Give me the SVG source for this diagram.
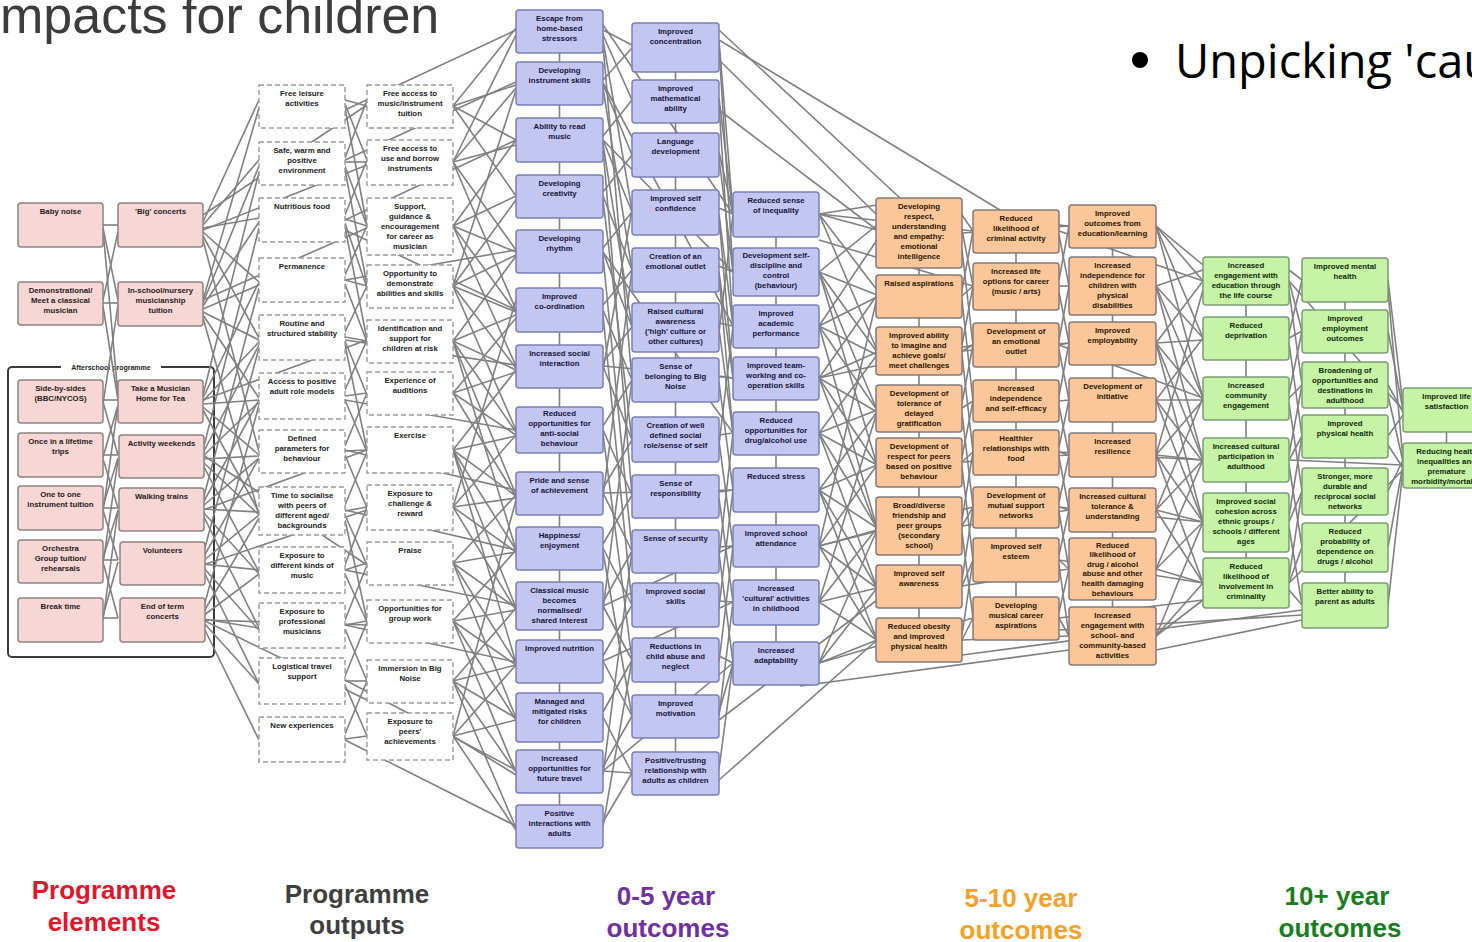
<svg xmlns="http://www.w3.org/2000/svg" width="1472" height="942" viewBox="0 0 1472 942">
<style>
.n text{font-family:"Liberation Sans",Arial,sans-serif;font-weight:bold;font-size:7.8px;text-anchor:middle}
.pk rect{fill:#f7d6d6;stroke:#8e8282;stroke-width:1.5}
.pk text{fill:#2a1a1a}
.ds rect{fill:#fff;stroke:#9a9a9a;stroke-width:1.4;stroke-dasharray:5 3}
.ds text{fill:#222}
.bl rect{fill:#c4c6f2;stroke:#7b80b0;stroke-width:1.5}
.bl text{fill:#14143a}
.or rect{fill:#fbc79a;stroke:#857a78;stroke-width:1.5}
.or text{fill:#2a1500}
.gr rect{fill:#c6f3a6;stroke:#7c9c74;stroke-width:1.5}
.gr text{fill:#0e2a08}
.lab{font-family:"Liberation Sans",Arial,sans-serif;font-weight:bold;font-size:26px;text-anchor:middle}
#connectors path{fill:none;stroke:#808080;stroke-width:1.6}
</style>
<rect width="1472" height="942" fill="#fff"/>
<text x="0" y="33" font-family="Liberation Sans,Arial,sans-serif" font-size="52" fill="#3c3c3c">mpacts for children</text>
<circle cx="1140" cy="60" r="8" fill="#000"/>
<text x="1175" y="78" font-family="Open Sans,Noto Sans,sans-serif" font-size="47" fill="#000">Unpicking 'cau</text>
<g id="afterschool">
<rect x="8" y="367" width="206" height="290" rx="4" fill="none" stroke="#3a3a3a" stroke-width="2"/>
<rect x="61" y="362" width="100" height="10" fill="#fff"/>
<text x="111" y="370" font-family="Liberation Sans,Arial,sans-serif" font-weight="bold" font-size="7px" text-anchor="middle" fill="#222">Afterschool programme</text>
</g>
<g id="connectors">
<path d="M103 225L118 225"/><path d="M103 228L118 300"/><path d="M103 230L118 395"/><path d="M103 300L118 232"/><path d="M103 303L118 303"/><path d="M103 306L118 400"/><path d="M103 400L118 400"/><path d="M103 402L118 455"/><path d="M103 404L118 305"/><path d="M103 455L118 455"/><path d="M103 457L118 405"/><path d="M103 459L118 508"/><path d="M103 508L118 508"/><path d="M103 506L118 458"/><path d="M103 510L118 560"/><path d="M103 512L118 405"/><path d="M103 560L118 560"/><path d="M103 558L118 510"/><path d="M103 562L118 618"/><path d="M103 564L118 460"/><path d="M103 618L118 618"/><path d="M103 616L118 562"/><path d="M103 620L118 510"/>
<path d="M203 222L259 100"/><path d="M203 225L259 160"/><path d="M203 228L259 218"/><path d="M203 232L259 282"/><path d="M203 236L259 338"/><path d="M203 240L259 452"/><path d="M203 300L259 108"/><path d="M203 303L259 166"/><path d="M203 306L259 222"/><path d="M203 309L259 285"/><path d="M203 312L259 340"/><path d="M203 315L259 398"/><path d="M203 318L259 515"/><path d="M203 395L259 172"/><path d="M203 398L259 282"/><path d="M203 401L259 342"/><path d="M203 404L259 400"/><path d="M203 407L259 455"/><path d="M203 410L259 512"/><path d="M203 450L259 228"/><path d="M203 453L259 345"/><path d="M203 456L259 402"/><path d="M203 459L259 456"/><path d="M203 462L259 515"/><path d="M203 465L259 572"/><path d="M203 500L259 288"/><path d="M203 503L259 400"/><path d="M203 506L259 458"/><path d="M203 509L259 512"/><path d="M203 512L259 574"/><path d="M203 515L259 628"/><path d="M203 555L259 348"/><path d="M203 558L259 458"/><path d="M203 561L259 515"/><path d="M203 564L259 570"/><path d="M203 567L259 630"/><path d="M203 570L259 684"/><path d="M203 610L259 405"/><path d="M203 613L259 518"/><path d="M203 616L259 574"/><path d="M203 619L259 628"/><path d="M203 622L259 684"/><path d="M203 626L259 740"/>
<path d="M203 215L367 105"/><path d="M203 300L367 228"/><path d="M203 455L367 565"/><path d="M203 620L367 700"/><path d="M203 510L367 450"/><path d="M203 230L367 165"/><path d="M203 400L367 340"/><path d="M203 565L367 510"/><path d="M203 620L367 625"/>
<path d="M345 100L367 106"/><path d="M345 104L367 160"/><path d="M345 108L367 226"/><path d="M345 158L367 100"/><path d="M345 162L367 162"/><path d="M345 166L367 226"/><path d="M345 170L367 285"/><path d="M345 215L367 160"/><path d="M345 219L367 226"/><path d="M345 223L367 288"/><path d="M345 227L367 340"/><path d="M345 275L367 226"/><path d="M345 280L367 286"/><path d="M345 284L367 342"/><path d="M345 332L367 286"/><path d="M345 337L367 341"/><path d="M345 341L367 395"/><path d="M345 345L367 450"/><path d="M345 390L367 340"/><path d="M345 396L367 393"/><path d="M345 400L367 452"/><path d="M345 446L367 393"/><path d="M345 451L367 450"/><path d="M345 455L367 508"/><path d="M345 505L367 452"/><path d="M345 511L367 507"/><path d="M345 515L367 565"/><path d="M345 520L367 620"/><path d="M345 565L367 507"/><path d="M345 570L367 563"/><path d="M345 574L367 622"/><path d="M345 620L367 565"/><path d="M345 625L367 621"/><path d="M345 629L367 681"/><path d="M345 676L367 622"/><path d="M345 681L367 681"/><path d="M345 685L367 736"/><path d="M345 734L367 681"/><path d="M345 739L367 736"/>
<path d="M345 110L516 30"/><path d="M345 220L516 140"/><path d="M345 340L516 365"/><path d="M345 450L516 490"/><path d="M345 570L516 605"/><path d="M345 680L516 770"/><path d="M345 740L516 826"/><path d="M345 400L516 430"/><path d="M345 160L516 82"/><path d="M345 280L516 250"/><path d="M345 510L516 550"/><path d="M345 625L516 662"/><path d="M345 230L516 310"/>
<path d="M453 106L516 28"/><path d="M453 106L516 85"/><path d="M453 106L516 140"/><path d="M453 106L516 196"/><path d="M453 162L516 35"/><path d="M453 162L516 88"/><path d="M453 162L516 145"/><path d="M453 162L516 250"/><path d="M453 162L516 310"/><path d="M453 226L516 140"/><path d="M453 226L516 196"/><path d="M453 226L516 252"/><path d="M453 226L516 312"/><path d="M453 226L516 366"/><path d="M453 286L516 90"/><path d="M453 286L516 200"/><path d="M453 286L516 255"/><path d="M453 286L516 312"/><path d="M453 286L516 368"/><path d="M453 286L516 430"/><path d="M453 341L516 256"/><path d="M453 341L516 315"/><path d="M453 341L516 370"/><path d="M453 341L516 432"/><path d="M453 341L516 495"/><path d="M453 341L516 550"/><path d="M453 393L516 318"/><path d="M453 393L516 372"/><path d="M453 393L516 435"/><path d="M453 393L516 497"/><path d="M453 450L516 370"/><path d="M453 450L516 436"/><path d="M453 450L516 496"/><path d="M453 450L516 550"/><path d="M453 450L516 608"/><path d="M453 450L516 663"/><path d="M453 507L516 435"/><path d="M453 507L516 498"/><path d="M453 507L516 552"/><path d="M453 507L516 610"/><path d="M453 507L516 300"/><path d="M453 563L516 495"/><path d="M453 563L516 552"/><path d="M453 563L516 608"/><path d="M453 563L516 663"/><path d="M453 563L516 718"/><path d="M453 621L516 550"/><path d="M453 621L516 610"/><path d="M453 621L516 665"/><path d="M453 621L516 720"/><path d="M453 621L516 772"/><path d="M453 681L516 608"/><path d="M453 681L516 665"/><path d="M453 681L516 718"/><path d="M453 681L516 772"/><path d="M453 681L516 828"/><path d="M453 736L516 665"/><path d="M453 736L516 720"/><path d="M453 736L516 775"/><path d="M453 736L516 830"/><path d="M453 736L516 500"/>
<path d="M603 30L632 45"/><path d="M603 35L632 100"/><path d="M603 40L632 210"/><path d="M603 45L632 380"/><path d="M603 80L632 48"/><path d="M603 84L632 155"/><path d="M603 88L632 270"/><path d="M603 136L632 100"/><path d="M603 140L632 212"/><path d="M603 144L632 327"/><path d="M603 148L632 495"/><path d="M603 192L632 155"/><path d="M603 196L632 270"/><path d="M603 200L632 440"/><path d="M603 248L632 212"/><path d="M603 252L632 327"/><path d="M603 256L632 550"/><path d="M603 305L632 270"/><path d="M603 310L632 380"/><path d="M603 315L632 605"/><path d="M603 362L632 327"/><path d="M603 366L632 440"/><path d="M603 370L632 210"/><path d="M603 426L632 380"/><path d="M603 430L632 495"/><path d="M603 434L632 660"/><path d="M603 488L632 440"/><path d="M603 493L632 551"/><path d="M603 497L632 270"/><path d="M603 544L632 495"/><path d="M603 548L632 605"/><path d="M603 552L632 716"/><path d="M603 602L632 551"/><path d="M603 606L632 660"/><path d="M603 610L632 380"/><path d="M603 656L632 605"/><path d="M603 661L632 716"/><path d="M603 712L632 660"/><path d="M603 717L632 773"/><path d="M603 767L632 716"/><path d="M603 771L632 773"/><path d="M603 775L632 551"/><path d="M603 822L632 773"/><path d="M603 826L632 660"/>
<path d="M603 25L733 214"/><path d="M603 140L733 272"/><path d="M603 366L733 378"/><path d="M603 493L733 490"/><path d="M603 606L733 546"/><path d="M603 771L733 663"/><path d="M603 83L733 326"/><path d="M603 252L733 433"/><path d="M603 661L733 602"/>
<path d="M719 40L733 214"/><path d="M719 47L733 272"/><path d="M719 98L733 214"/><path d="M719 104L733 326"/><path d="M719 152L733 214"/><path d="M719 158L733 272"/><path d="M719 208L733 214"/><path d="M719 214L733 326"/><path d="M719 218L733 378"/><path d="M719 266L733 272"/><path d="M719 272L733 378"/><path d="M719 276L733 433"/><path d="M719 323L733 326"/><path d="M719 329L733 433"/><path d="M719 333L733 214"/><path d="M719 376L733 378"/><path d="M719 382L733 490"/><path d="M719 435L733 433"/><path d="M719 441L733 546"/><path d="M719 445L733 326"/><path d="M719 492L733 490"/><path d="M719 498L733 602"/><path d="M719 547L733 546"/><path d="M719 553L733 663"/><path d="M719 557L733 433"/><path d="M719 601L733 602"/><path d="M719 607L733 490"/><path d="M719 656L733 663"/><path d="M719 662L733 546"/><path d="M719 712L733 663"/><path d="M719 716L733 602"/><path d="M719 769L733 663"/>
<path d="M719 30L900 198"/><path d="M719 40L1000 210"/><path d="M719 60L877 215"/><path d="M719 110L877 230"/><path d="M719 780L877 640"/><path d="M719 720L877 600"/>
<path d="M819 214L877 205"/><path d="M819 214L877 230"/><path d="M819 214L877 290"/><path d="M819 214L877 350"/><path d="M819 272L877 225"/><path d="M819 272L877 295"/><path d="M819 272L877 352"/><path d="M819 272L877 410"/><path d="M819 272L877 465"/><path d="M819 326L877 240"/><path d="M819 326L877 297"/><path d="M819 326L877 355"/><path d="M819 326L877 410"/><path d="M819 326L877 528"/><path d="M819 378L877 295"/><path d="M819 378L877 352"/><path d="M819 378L877 412"/><path d="M819 378L877 465"/><path d="M819 378L877 530"/><path d="M819 433L877 355"/><path d="M819 433L877 410"/><path d="M819 433L877 465"/><path d="M819 433L877 528"/><path d="M819 433L877 588"/><path d="M819 490L877 412"/><path d="M819 490L877 465"/><path d="M819 490L877 528"/><path d="M819 490L877 588"/><path d="M819 490L877 640"/><path d="M819 546L877 465"/><path d="M819 546L877 530"/><path d="M819 546L877 588"/><path d="M819 546L877 640"/><path d="M819 546L877 298"/><path d="M819 602L877 528"/><path d="M819 602L877 588"/><path d="M819 602L877 640"/><path d="M819 602L877 412"/><path d="M819 663L877 588"/><path d="M819 663L877 640"/><path d="M819 663L877 530"/>
<path d="M819 214L973 231"/><path d="M819 378L973 345"/><path d="M819 546L973 507"/><path d="M819 663L973 618"/><path d="M800 686L1069 650"/><path d="M819 240L973 286"/>
<path d="M962 215L973 231"/><path d="M962 230L973 286"/><path d="M962 250L973 345"/><path d="M962 290L973 231"/><path d="M962 296L973 286"/><path d="M962 300L973 401"/><path d="M962 345L973 286"/><path d="M962 351L973 345"/><path d="M962 355L973 452"/><path d="M962 403L973 345"/><path d="M962 408L973 401"/><path d="M962 413L973 507"/><path d="M962 457L973 401"/><path d="M962 462L973 452"/><path d="M962 467L973 560"/><path d="M962 520L973 452"/><path d="M962 526L973 507"/><path d="M962 532L973 618"/><path d="M962 580L973 507"/><path d="M962 586L973 560"/><path d="M962 635L973 560"/><path d="M962 640L973 618"/>
<path d="M962 233L1069 226"/><path d="M962 351L1069 343"/><path d="M962 462L1069 455"/><path d="M962 586L1069 569"/><path d="M962 640L1069 636"/><path d="M962 526L1069 510"/>
<path d="M1059 225L1069 226"/><path d="M1059 235L1069 286"/><path d="M1059 280L1069 226"/><path d="M1059 286L1069 286"/><path d="M1059 292L1069 343"/><path d="M1059 340L1069 286"/><path d="M1059 345L1069 343"/><path d="M1059 350L1069 400"/><path d="M1059 396L1069 343"/><path d="M1059 401L1069 400"/><path d="M1059 406L1069 455"/><path d="M1059 447L1069 400"/><path d="M1059 452L1069 455"/><path d="M1059 457L1069 510"/><path d="M1059 502L1069 455"/><path d="M1059 507L1069 510"/><path d="M1059 512L1069 569"/><path d="M1059 555L1069 510"/><path d="M1059 560L1069 569"/><path d="M1059 565L1069 636"/><path d="M1059 612L1069 569"/><path d="M1059 618L1069 636"/>
<path d="M1059 231L1203 281"/><path d="M1059 345L1203 398"/><path d="M1059 452L1203 460"/><path d="M1059 560L1203 583"/><path d="M1059 618L1203 600"/><path d="M1059 507L1203 522"/>
<path d="M1156 226L1203 265"/><path d="M1156 226L1203 281"/><path d="M1156 226L1203 338"/><path d="M1156 226L1203 398"/><path d="M1156 286L1203 270"/><path d="M1156 286L1203 338"/><path d="M1156 286L1203 398"/><path d="M1156 286L1203 460"/><path d="M1156 343L1203 281"/><path d="M1156 343L1203 340"/><path d="M1156 343L1203 400"/><path d="M1156 343L1203 460"/><path d="M1156 343L1203 522"/><path d="M1156 400L1203 338"/><path d="M1156 400L1203 400"/><path d="M1156 400L1203 462"/><path d="M1156 400L1203 522"/><path d="M1156 455L1203 400"/><path d="M1156 455L1203 460"/><path d="M1156 455L1203 522"/><path d="M1156 455L1203 583"/><path d="M1156 455L1203 290"/><path d="M1156 510L1203 460"/><path d="M1156 510L1203 522"/><path d="M1156 510L1203 583"/><path d="M1156 510L1203 398"/><path d="M1156 569L1203 522"/><path d="M1156 569L1203 583"/><path d="M1156 569L1203 460"/><path d="M1156 636L1203 583"/><path d="M1156 636L1203 600"/><path d="M1156 636L1203 522"/>
<path d="M962 655L1302 610"/><path d="M1059 630L1302 615"/><path d="M1156 650L1302 620"/>
<path d="M1289 270L1302 280"/><path d="M1289 281L1302 331"/><path d="M1289 290L1302 385"/><path d="M1289 333L1302 280"/><path d="M1289 338L1302 331"/><path d="M1289 343L1302 436"/><path d="M1289 393L1302 331"/><path d="M1289 398L1302 385"/><path d="M1289 403L1302 491"/><path d="M1289 455L1302 385"/><path d="M1289 460L1302 436"/><path d="M1289 465L1302 547"/><path d="M1289 517L1302 436"/><path d="M1289 522L1302 491"/><path d="M1289 527L1302 605"/><path d="M1289 578L1302 491"/><path d="M1289 583L1302 547"/><path d="M1289 590L1302 605"/>
<path d="M1289 281L1403 410"/><path d="M1289 460L1403 465"/><path d="M1289 583L1403 470"/>
<path d="M1388 280L1403 405"/><path d="M1388 331L1403 410"/><path d="M1388 385L1403 412"/><path d="M1388 436L1403 415"/><path d="M1388 491L1403 460"/><path d="M1388 547L1403 465"/><path d="M1388 605L1403 470"/><path d="M1388 290L1403 460"/><path d="M1388 395L1403 462"/><path d="M1388 445L1403 468"/>
<path d="M559.5 31V826"/><path d="M675.5 47V773"/><path d="M776 214V663"/><path d="M919 233V640"/><path d="M1016 231V618"/><path d="M1112.5 226V636"/><path d="M1246 281V583"/><path d="M1345 280V605"/><path d="M1446.5 410V465"/>
</g>
<g id="nodes">
<g id="pe-a1" class="n pk"><rect x="18" y="203" width="85" height="44" rx="3"/><text x="60.5" y="213.5">Baby noise</text></g>
<g id="pe-a2" class="n pk"><rect x="18" y="282" width="85" height="43" rx="3"/><text y="292.5"><tspan x="60.5">Demonstrational/</tspan><tspan x="60.5" dy="10">Meet a classical</tspan><tspan x="60.5" dy="10">musician</tspan></text></g>
<g id="pe-a3" class="n pk"><rect x="18" y="380" width="85" height="43" rx="3"/><text y="390.5"><tspan x="60.5">Side-by-sides</tspan><tspan x="60.5" dy="10">(BBC/NYCOS)</tspan></text></g>
<g id="pe-a4" class="n pk"><rect x="18" y="433" width="85" height="44" rx="3"/><text y="443.5"><tspan x="60.5">Once in a lifetime</tspan><tspan x="60.5" dy="10">trips</tspan></text></g>
<g id="pe-a5" class="n pk"><rect x="18" y="486" width="85" height="44" rx="3"/><text y="496.5"><tspan x="60.5">One to one</tspan><tspan x="60.5" dy="10">instrument tuition</tspan></text></g>
<g id="pe-a6" class="n pk"><rect x="18" y="540" width="85" height="43" rx="3"/><text y="550.5"><tspan x="60.5">Orchestra</tspan><tspan x="60.5" dy="10">Group tuition/</tspan><tspan x="60.5" dy="10">rehearsals</tspan></text></g>
<g id="pe-a7" class="n pk"><rect x="18" y="598" width="85" height="44" rx="3"/><text x="60.5" y="608.5">Break time</text></g>
<g id="pe-b1" class="n pk"><rect x="118" y="203" width="85" height="44" rx="3"/><text x="160.5" y="213.5">'Big' concerts</text></g>
<g id="pe-b2" class="n pk"><rect x="118" y="282" width="85" height="44" rx="3"/><text y="292.5"><tspan x="160.5">In-school/nursery</tspan><tspan x="160.5" dy="10">musicianship</tspan><tspan x="160.5" dy="10">tuition</tspan></text></g>
<g id="pe-b3" class="n pk"><rect x="118" y="380" width="85" height="43" rx="3"/><text y="390.5"><tspan x="160.5">Take a Musician</tspan><tspan x="160.5" dy="10">Home for Tea</tspan></text></g>
<g id="pe-b4" class="n pk"><rect x="119" y="435" width="85" height="43" rx="3"/><text x="161.5" y="445.5">Activity weekends</text></g>
<g id="pe-b5" class="n pk"><rect x="119" y="488" width="85" height="43" rx="3"/><text x="161.5" y="498.5">Walking trains</text></g>
<g id="pe-b6" class="n pk"><rect x="120" y="542" width="85" height="43" rx="3"/><text x="162.5" y="552.5">Volunteers</text></g>
<g id="pe-b7" class="n pk"><rect x="120" y="598" width="85" height="44" rx="3"/><text y="608.5"><tspan x="162.5">End of term</tspan><tspan x="162.5" dy="10">concerts</tspan></text></g>

<g id="out-a1" class="n ds"><rect x="259" y="85" width="86" height="43"/><text y="95.5"><tspan x="302">Free leisure</tspan><tspan x="302" dy="10">activities</tspan></text></g>
<g id="out-a2" class="n ds"><rect x="259" y="142" width="86" height="43"/><text y="152.5"><tspan x="302">Safe, warm and</tspan><tspan x="302" dy="10">positive</tspan><tspan x="302" dy="10">environment</tspan></text></g>
<g id="out-a3" class="n ds"><rect x="259" y="198" width="86" height="44"/><text x="302" y="208.5">Nutritious food</text></g>
<g id="out-a4" class="n ds"><rect x="259" y="258" width="86" height="44"/><text x="302" y="268.5">Permanence</text></g>
<g id="out-a5" class="n ds"><rect x="259" y="315" width="86" height="45"/><text y="325.5"><tspan x="302">Routine and</tspan><tspan x="302" dy="10">structured stability</tspan></text></g>
<g id="out-a6" class="n ds"><rect x="259" y="373" width="86" height="46"/><text y="383.5"><tspan x="302">Access to positive</tspan><tspan x="302" dy="10">adult role models</tspan></text></g>
<g id="out-a7" class="n ds"><rect x="259" y="430" width="86" height="43"/><text y="440.5"><tspan x="302">Defined</tspan><tspan x="302" dy="10">parameters for</tspan><tspan x="302" dy="10">behaviour</tspan></text></g>
<g id="out-a8" class="n ds"><rect x="259" y="487" width="86" height="48"/><text y="497.5"><tspan x="302">Time to socialise</tspan><tspan x="302" dy="10">with peers of</tspan><tspan x="302" dy="10">different aged/</tspan><tspan x="302" dy="10">backgrounds</tspan></text></g>
<g id="out-a9" class="n ds"><rect x="259" y="547" width="86" height="46"/><text y="557.5"><tspan x="302">Exposure to</tspan><tspan x="302" dy="10">different kinds of</tspan><tspan x="302" dy="10">music</tspan></text></g>
<g id="out-a10" class="n ds"><rect x="259" y="603" width="86" height="45"/><text y="613.5"><tspan x="302">Exposure to</tspan><tspan x="302" dy="10">professional</tspan><tspan x="302" dy="10">musicians</tspan></text></g>
<g id="out-a11" class="n ds"><rect x="259" y="658" width="86" height="46"/><text y="668.5"><tspan x="302">Logistical travel</tspan><tspan x="302" dy="10">support</tspan></text></g>
<g id="out-a12" class="n ds"><rect x="259" y="717" width="86" height="45"/><text x="302" y="727.5">New experiences</text></g>

<g id="out-b1" class="n ds"><rect x="367" y="85" width="86" height="43"/><text y="95.5"><tspan x="410">Free access to</tspan><tspan x="410" dy="10">music/instrument</tspan><tspan x="410" dy="10">tuition</tspan></text></g>
<g id="out-b2" class="n ds"><rect x="367" y="140" width="86" height="45"/><text y="150.5"><tspan x="410">Free access to</tspan><tspan x="410" dy="10">use and borrow</tspan><tspan x="410" dy="10">instruments</tspan></text></g>
<g id="out-b3" class="n ds"><rect x="367" y="198" width="86" height="57"/><text y="208.5"><tspan x="410">Support,</tspan><tspan x="410" dy="10">guidance &amp;</tspan><tspan x="410" dy="10">encouragement</tspan><tspan x="410" dy="10">for career as</tspan><tspan x="410" dy="10">musician</tspan></text></g>
<g id="out-b4" class="n ds"><rect x="367" y="265" width="86" height="43"/><text y="275.5"><tspan x="410">Opportunity to</tspan><tspan x="410" dy="10">demonstrate</tspan><tspan x="410" dy="10">abilities and skills</tspan></text></g>
<g id="out-b5" class="n ds"><rect x="367" y="320" width="86" height="43"/><text y="330.5"><tspan x="410">Identification and</tspan><tspan x="410" dy="10">support for</tspan><tspan x="410" dy="10">children at risk</tspan></text></g>
<g id="out-b6" class="n ds"><rect x="367" y="372" width="86" height="43"/><text y="382.5"><tspan x="410">Experience of</tspan><tspan x="410" dy="10">auditions</tspan></text></g>
<g id="out-b7" class="n ds"><rect x="367" y="427" width="86" height="46"/><text x="410" y="437.5">Exercise</text></g>
<g id="out-b8" class="n ds"><rect x="367" y="485" width="86" height="45"/><text y="495.5"><tspan x="410">Exposure to</tspan><tspan x="410" dy="10">challenge &amp;</tspan><tspan x="410" dy="10">reward</tspan></text></g>
<g id="out-b9" class="n ds"><rect x="367" y="542" width="86" height="43"/><text x="410" y="552.5">Praise</text></g>
<g id="out-b10" class="n ds"><rect x="367" y="600" width="86" height="43"/><text y="610.5"><tspan x="410">Opportunities for</tspan><tspan x="410" dy="10">group work</tspan></text></g>
<g id="out-b11" class="n ds"><rect x="367" y="660" width="86" height="43"/><text y="670.5"><tspan x="410">Immersion in Big</tspan><tspan x="410" dy="10">Noise</tspan></text></g>
<g id="out-b12" class="n ds"><rect x="367" y="713" width="86" height="47"/><text y="723.5"><tspan x="410">Exposure to</tspan><tspan x="410" dy="10">peers'</tspan><tspan x="410" dy="10">achievements</tspan></text></g>

<g id="y05-a1" class="n bl"><rect x="516" y="10" width="87" height="43" rx="3"/><text y="20.5"><tspan x="559.5">Escape from</tspan><tspan x="559.5" dy="10">home-based</tspan><tspan x="559.5" dy="10">stressors</tspan></text></g>
<g id="y05-a2" class="n bl"><rect x="516" y="62" width="87" height="43" rx="3"/><text y="72.5"><tspan x="559.5">Developing</tspan><tspan x="559.5" dy="10">instrument skills</tspan></text></g>
<g id="y05-a3" class="n bl"><rect x="516" y="118" width="87" height="44" rx="3"/><text y="128.5"><tspan x="559.5">Ability to read</tspan><tspan x="559.5" dy="10">music</tspan></text></g>
<g id="y05-a4" class="n bl"><rect x="516" y="175" width="87" height="43" rx="3"/><text y="185.5"><tspan x="559.5">Developing</tspan><tspan x="559.5" dy="10">creativity</tspan></text></g>
<g id="y05-a5" class="n bl"><rect x="516" y="230" width="87" height="43" rx="3"/><text y="240.5"><tspan x="559.5">Developing</tspan><tspan x="559.5" dy="10">rhythm</tspan></text></g>
<g id="y05-a6" class="n bl"><rect x="516" y="288" width="87" height="44" rx="3"/><text y="298.5"><tspan x="559.5">Improved</tspan><tspan x="559.5" dy="10">co-ordination</tspan></text></g>
<g id="y05-a7" class="n bl"><rect x="516" y="345" width="87" height="43" rx="3"/><text y="355.5"><tspan x="559.5">Increased social</tspan><tspan x="559.5" dy="10">interaction</tspan></text></g>
<g id="y05-a8" class="n bl"><rect x="516" y="407" width="87" height="46" rx="3"/><text y="415.5"><tspan x="559.5">Reduced</tspan><tspan x="559.5" dy="10">opportunities for</tspan><tspan x="559.5" dy="10">anti-social</tspan><tspan x="559.5" dy="10">behaviour</tspan></text></g>
<g id="y05-a9" class="n bl"><rect x="516" y="472" width="87" height="43" rx="3"/><text y="482.5"><tspan x="559.5">Pride and sense</tspan><tspan x="559.5" dy="10">of achievement</tspan></text></g>
<g id="y05-a10" class="n bl"><rect x="516" y="527" width="87" height="43" rx="3"/><text y="537.5"><tspan x="559.5">Happiness/</tspan><tspan x="559.5" dy="10">enjoyment</tspan></text></g>
<g id="y05-a11" class="n bl"><rect x="516" y="582" width="87" height="48" rx="3"/><text y="592.5"><tspan x="559.5">Classical music</tspan><tspan x="559.5" dy="10">becomes</tspan><tspan x="559.5" dy="10">normalised/</tspan><tspan x="559.5" dy="10">shared interest</tspan></text></g>
<g id="y05-a12" class="n bl"><rect x="516" y="640" width="87" height="43" rx="3"/><text x="559.5" y="650.5">Improved nutrition</text></g>
<g id="y05-a13" class="n bl"><rect x="516" y="693" width="87" height="49" rx="3"/><text y="703.5"><tspan x="559.5">Managed and</tspan><tspan x="559.5" dy="10">mitigated  risks</tspan><tspan x="559.5" dy="10">for children</tspan></text></g>
<g id="y05-a14" class="n bl"><rect x="516" y="750" width="87" height="43" rx="3"/><text y="760.5"><tspan x="559.5">Increased</tspan><tspan x="559.5" dy="10">opportunities for</tspan><tspan x="559.5" dy="10">future travel</tspan></text></g>
<g id="y05-a15" class="n bl"><rect x="516" y="805" width="87" height="43" rx="3"/><text y="815.5"><tspan x="559.5">Positive</tspan><tspan x="559.5" dy="10">interactions with</tspan><tspan x="559.5" dy="10">adults</tspan></text></g>

<g id="y05-b1" class="n bl"><rect x="632" y="23" width="87" height="49" rx="3"/><text y="33.5"><tspan x="675.5">Improved</tspan><tspan x="675.5" dy="10">concentration</tspan></text></g>
<g id="y05-b2" class="n bl"><rect x="632" y="80" width="87" height="43" rx="3"/><text y="90.5"><tspan x="675.5">Improved</tspan><tspan x="675.5" dy="10">mathematical</tspan><tspan x="675.5" dy="10">ability</tspan></text></g>
<g id="y05-b3" class="n bl"><rect x="632" y="133" width="87" height="44" rx="3"/><text y="143.5"><tspan x="675.5">Language</tspan><tspan x="675.5" dy="10">development</tspan></text></g>
<g id="y05-b4" class="n bl"><rect x="632" y="190" width="87" height="45" rx="3"/><text y="200.5"><tspan x="675.5">Improved self</tspan><tspan x="675.5" dy="10">confidence</tspan></text></g>
<g id="y05-b5" class="n bl"><rect x="632" y="248" width="87" height="44" rx="3"/><text y="258.5"><tspan x="675.5">Creation of an</tspan><tspan x="675.5" dy="10">emotional outlet</tspan></text></g>
<g id="y05-b6" class="n bl"><rect x="632" y="303" width="87" height="49" rx="3"/><text y="313.5"><tspan x="675.5">Raised cultural</tspan><tspan x="675.5" dy="10">awareness</tspan><tspan x="675.5" dy="10">('high' culture or</tspan><tspan x="675.5" dy="10">other cultures)</tspan></text></g>
<g id="y05-b7" class="n bl"><rect x="632" y="358" width="87" height="44" rx="3"/><text y="368.5"><tspan x="675.5">Sense of</tspan><tspan x="675.5" dy="10">belonging to Big</tspan><tspan x="675.5" dy="10">Noise</tspan></text></g>
<g id="y05-b8" class="n bl"><rect x="632" y="417" width="87" height="45" rx="3"/><text y="427.5"><tspan x="675.5">Creation of well</tspan><tspan x="675.5" dy="10">defined social</tspan><tspan x="675.5" dy="10">role/sense of self</tspan></text></g>
<g id="y05-b9" class="n bl"><rect x="632" y="475" width="87" height="43" rx="3"/><text y="485.5"><tspan x="675.5">Sense of</tspan><tspan x="675.5" dy="10">responsibility</tspan></text></g>
<g id="y05-b10" class="n bl"><rect x="632" y="530" width="87" height="43" rx="3"/><text x="675.5" y="540.5">Sense of security</text></g>
<g id="y05-b11" class="n bl"><rect x="632" y="583" width="87" height="44" rx="3"/><text y="593.5"><tspan x="675.5">Improved social</tspan><tspan x="675.5" dy="10">skills</tspan></text></g>
<g id="y05-b12" class="n bl"><rect x="632" y="638" width="87" height="44" rx="3"/><text y="648.5"><tspan x="675.5">Reductions in</tspan><tspan x="675.5" dy="10">child abuse and</tspan><tspan x="675.5" dy="10">neglect</tspan></text></g>
<g id="y05-b13" class="n bl"><rect x="632" y="695" width="87" height="43" rx="3"/><text y="705.5"><tspan x="675.5">Improved</tspan><tspan x="675.5" dy="10">motivation</tspan></text></g>
<g id="y05-b14" class="n bl"><rect x="632" y="752" width="87" height="43" rx="3"/><text y="762.5"><tspan x="675.5">Positive/trusting</tspan><tspan x="675.5" dy="10">relationship with</tspan><tspan x="675.5" dy="10">adults as children</tspan></text></g>

<g id="y05-c1" class="n bl"><rect x="733" y="192" width="86" height="45" rx="3"/><text y="202.5"><tspan x="776">Reduced sense</tspan><tspan x="776" dy="10">of inequality</tspan></text></g>
<g id="y05-c2" class="n bl"><rect x="733" y="248" width="86" height="48" rx="3"/><text y="258"><tspan x="776">Development self-</tspan><tspan x="776" dy="10">discipline and</tspan><tspan x="776" dy="10">control</tspan><tspan x="776" dy="10">(behaviour)</tspan></text></g>
<g id="y05-c3" class="n bl"><rect x="733" y="305" width="86" height="43" rx="3"/><text y="315.5"><tspan x="776">Improved</tspan><tspan x="776" dy="10">academic</tspan><tspan x="776" dy="10">performance</tspan></text></g>
<g id="y05-c4" class="n bl"><rect x="733" y="357" width="86" height="43" rx="3"/><text y="367.5"><tspan x="776">Improved team-</tspan><tspan x="776" dy="10">working and co-</tspan><tspan x="776" dy="10">operation skills</tspan></text></g>
<g id="y05-c5" class="n bl"><rect x="733" y="412" width="86" height="43" rx="3"/><text y="422.5"><tspan x="776">Reduced</tspan><tspan x="776" dy="10">opportunities for</tspan><tspan x="776" dy="10">drug/alcohol use</tspan></text></g>
<g id="y05-c6" class="n bl"><rect x="733" y="468" width="86" height="44" rx="3"/><text x="776" y="478.5">Reduced stress</text></g>
<g id="y05-c7" class="n bl"><rect x="733" y="525" width="86" height="42" rx="3"/><text y="535.5"><tspan x="776">Improved school</tspan><tspan x="776" dy="10">attendance</tspan></text></g>
<g id="y05-c8" class="n bl"><rect x="733" y="580" width="86" height="45" rx="3"/><text y="590.5"><tspan x="776">Increased</tspan><tspan x="776" dy="10">'cultural' activities</tspan><tspan x="776" dy="10">in childhood</tspan></text></g>
<g id="y05-c9" class="n bl"><rect x="733" y="642" width="86" height="43" rx="3"/><text y="652.5"><tspan x="776">Increased</tspan><tspan x="776" dy="10">adaptability</tspan></text></g>

<g id="y510-a1" class="n or"><rect x="876" y="198" width="86" height="70" rx="3"/><text y="208.5"><tspan x="919">Developing</tspan><tspan x="919" dy="10">respect,</tspan><tspan x="919" dy="10">understanding</tspan><tspan x="919" dy="10">and empathy:</tspan><tspan x="919" dy="10">emotional</tspan><tspan x="919" dy="10">intelligence</tspan></text></g>
<g id="y510-a2" class="n or"><rect x="876" y="275" width="86" height="43" rx="3"/><text x="919" y="285.5">Raised aspirations</text></g>
<g id="y510-a3" class="n or"><rect x="876" y="327" width="86" height="48" rx="3"/><text y="337.5"><tspan x="919">Improved ability</tspan><tspan x="919" dy="10">to imagine and</tspan><tspan x="919" dy="10">achieve goals/</tspan><tspan x="919" dy="10">meet challenges</tspan></text></g>
<g id="y510-a4" class="n or"><rect x="876" y="385" width="86" height="47" rx="3"/><text y="395.5"><tspan x="919">Development of</tspan><tspan x="919" dy="10">tolerance of</tspan><tspan x="919" dy="10">delayed</tspan><tspan x="919" dy="10">gratification</tspan></text></g>
<g id="y510-a5" class="n or"><rect x="876" y="438" width="86" height="49" rx="3"/><text y="448.5"><tspan x="919">Development of</tspan><tspan x="919" dy="10">respect for peers</tspan><tspan x="919" dy="10">based on positive</tspan><tspan x="919" dy="10">behaviour</tspan></text></g>
<g id="y510-a6" class="n or"><rect x="876" y="497" width="86" height="58" rx="3"/><text y="507.5"><tspan x="919">Broad/diverse</tspan><tspan x="919" dy="10">friendship and</tspan><tspan x="919" dy="10">peer groups</tspan><tspan x="919" dy="10">(secondary</tspan><tspan x="919" dy="10">school)</tspan></text></g>
<g id="y510-a7" class="n or"><rect x="876" y="565" width="86" height="43" rx="3"/><text y="575.5"><tspan x="919">Improved self</tspan><tspan x="919" dy="10">awareness</tspan></text></g>
<g id="y510-a8" class="n or"><rect x="876" y="618" width="86" height="44" rx="3"/><text y="628.5"><tspan x="919">Reduced obesity</tspan><tspan x="919" dy="10">and improved</tspan><tspan x="919" dy="10">physical health</tspan></text></g>

<g id="y510-b1" class="n or"><rect x="973" y="210" width="86" height="43" rx="3"/><text y="220.5"><tspan x="1016">Reduced</tspan><tspan x="1016" dy="10">likelihood of</tspan><tspan x="1016" dy="10">criminal activity</tspan></text></g>
<g id="y510-b2" class="n or"><rect x="973" y="263" width="86" height="47" rx="3"/><text y="273.5"><tspan x="1016">Increased life</tspan><tspan x="1016" dy="10">options for career</tspan><tspan x="1016" dy="10">(music / arts)</tspan></text></g>
<g id="y510-b3" class="n or"><rect x="973" y="323" width="86" height="44" rx="3"/><text y="333.5"><tspan x="1016">Development of</tspan><tspan x="1016" dy="10">an emotional</tspan><tspan x="1016" dy="10">outlet</tspan></text></g>
<g id="y510-b4" class="n or"><rect x="973" y="380" width="86" height="42" rx="3"/><text y="390.5"><tspan x="1016">Increased</tspan><tspan x="1016" dy="10">independence</tspan><tspan x="1016" dy="10">and self-efficacy</tspan></text></g>
<g id="y510-b5" class="n or"><rect x="973" y="430" width="86" height="45" rx="3"/><text y="440.5"><tspan x="1016">Healthier</tspan><tspan x="1016" dy="10">relationships with</tspan><tspan x="1016" dy="10">food</tspan></text></g>
<g id="y510-b6" class="n or"><rect x="973" y="487" width="86" height="41" rx="3"/><text y="497.5"><tspan x="1016">Development of</tspan><tspan x="1016" dy="10">mutual support</tspan><tspan x="1016" dy="10">networks</tspan></text></g>
<g id="y510-b7" class="n or"><rect x="973" y="538" width="86" height="44" rx="3"/><text y="548.5"><tspan x="1016">Improved self</tspan><tspan x="1016" dy="10">esteem</tspan></text></g>
<g id="y510-b8" class="n or"><rect x="973" y="597" width="86" height="43" rx="3"/><text y="607.5"><tspan x="1016">Developing</tspan><tspan x="1016" dy="10">musical career</tspan><tspan x="1016" dy="10">aspirations</tspan></text></g>

<g id="y510-c1" class="n or"><rect x="1069" y="205" width="87" height="43" rx="3"/><text y="215.5"><tspan x="1112.5">Improved</tspan><tspan x="1112.5" dy="10">outcomes from</tspan><tspan x="1112.5" dy="10">education/learning</tspan></text></g>
<g id="y510-c2" class="n or"><rect x="1069" y="257" width="87" height="58" rx="3"/><text y="267.5"><tspan x="1112.5">Increased</tspan><tspan x="1112.5" dy="10">independence for</tspan><tspan x="1112.5" dy="10">children with</tspan><tspan x="1112.5" dy="10">physical</tspan><tspan x="1112.5" dy="10">disabilities</tspan></text></g>
<g id="y510-c3" class="n or"><rect x="1069" y="322" width="87" height="43" rx="3"/><text y="332.5"><tspan x="1112.5">Improved</tspan><tspan x="1112.5" dy="10">employability</tspan></text></g>
<g id="y510-c4" class="n or"><rect x="1069" y="378" width="87" height="44" rx="3"/><text y="388.5"><tspan x="1112.5">Development of</tspan><tspan x="1112.5" dy="10">initiative</tspan></text></g>
<g id="y510-c5" class="n or"><rect x="1069" y="433" width="87" height="44" rx="3"/><text y="443.5"><tspan x="1112.5">Increased</tspan><tspan x="1112.5" dy="10">resilience</tspan></text></g>
<g id="y510-c6" class="n or"><rect x="1069" y="488" width="87" height="44" rx="3"/><text y="498.5"><tspan x="1112.5">Increased cultural</tspan><tspan x="1112.5" dy="10">tolerance &amp;</tspan><tspan x="1112.5" dy="10">understanding</tspan></text></g>
<g id="y510-c7" class="n or"><rect x="1069" y="538" width="87" height="62" rx="3"/><text y="547.5"><tspan x="1112.5">Reduced</tspan><tspan x="1112.5" dy="9.6">likelihood of</tspan><tspan x="1112.5" dy="9.6">drug  / alcohol</tspan><tspan x="1112.5" dy="9.6">abuse and other</tspan><tspan x="1112.5" dy="9.6">health damaging</tspan><tspan x="1112.5" dy="9.6">behaviours</tspan></text></g>
<g id="y510-c8" class="n or"><rect x="1069" y="607" width="87" height="58" rx="3"/><text y="617.5"><tspan x="1112.5">Increased</tspan><tspan x="1112.5" dy="10">engagement with</tspan><tspan x="1112.5" dy="10">school- and</tspan><tspan x="1112.5" dy="10">community-based</tspan><tspan x="1112.5" dy="10">activities</tspan></text></g>

<g id="y10-a1" class="n gr"><rect x="1203" y="257" width="86" height="48" rx="3"/><text y="267.5"><tspan x="1246">Increased</tspan><tspan x="1246" dy="10">engagement with</tspan><tspan x="1246" dy="10">education through</tspan><tspan x="1246" dy="10">the life course</tspan></text></g>
<g id="y10-a2" class="n gr"><rect x="1203" y="317" width="86" height="43" rx="3"/><text y="327.5"><tspan x="1246">Reduced</tspan><tspan x="1246" dy="10">deprivation</tspan></text></g>
<g id="y10-a3" class="n gr"><rect x="1203" y="377" width="86" height="43" rx="3"/><text y="387.5"><tspan x="1246">Increased</tspan><tspan x="1246" dy="10">community</tspan><tspan x="1246" dy="10">engagement</tspan></text></g>
<g id="y10-a4" class="n gr"><rect x="1203" y="438" width="86" height="44" rx="3"/><text y="448.5"><tspan x="1246">Increased cultural</tspan><tspan x="1246" dy="10">participation in</tspan><tspan x="1246" dy="10">adulthood</tspan></text></g>
<g id="y10-a5" class="n gr"><rect x="1203" y="493" width="86" height="59" rx="3"/><text y="503.5"><tspan x="1246">Improved social</tspan><tspan x="1246" dy="10">cohesion across</tspan><tspan x="1246" dy="10">ethnic groups /</tspan><tspan x="1246" dy="10">schools / different</tspan><tspan x="1246" dy="10">ages</tspan></text></g>
<g id="y10-a6" class="n gr"><rect x="1203" y="558" width="86" height="50" rx="3"/><text y="568.5"><tspan x="1246">Reduced</tspan><tspan x="1246" dy="10">likelihood of</tspan><tspan x="1246" dy="10">involvement in</tspan><tspan x="1246" dy="10">criminality</tspan></text></g>

<g id="y10-b1" class="n gr"><rect x="1302" y="258" width="86" height="44" rx="3"/><text y="268.5"><tspan x="1345">Improved mental</tspan><tspan x="1345" dy="10">health</tspan></text></g>
<g id="y10-b2" class="n gr"><rect x="1302" y="310" width="86" height="43" rx="3"/><text y="320.5"><tspan x="1345">Improved</tspan><tspan x="1345" dy="10">employment</tspan><tspan x="1345" dy="10">outcomes</tspan></text></g>
<g id="y10-b3" class="n gr"><rect x="1302" y="362" width="86" height="46" rx="3"/><text y="372.5"><tspan x="1345">Broadening of</tspan><tspan x="1345" dy="10">opportunities and</tspan><tspan x="1345" dy="10">destinations in</tspan><tspan x="1345" dy="10">adulthood</tspan></text></g>
<g id="y10-b4" class="n gr"><rect x="1302" y="415" width="86" height="43" rx="3"/><text y="425.5"><tspan x="1345">Improved</tspan><tspan x="1345" dy="10">physical health</tspan></text></g>
<g id="y10-b5" class="n gr"><rect x="1302" y="468" width="86" height="47" rx="3"/><text y="478.5"><tspan x="1345">Stronger, more</tspan><tspan x="1345" dy="10">durable and</tspan><tspan x="1345" dy="10">reciprocal social</tspan><tspan x="1345" dy="10">networks</tspan></text></g>
<g id="y10-b6" class="n gr"><rect x="1302" y="523" width="86" height="49" rx="3"/><text y="533.5"><tspan x="1345">Reduced</tspan><tspan x="1345" dy="10">probability of</tspan><tspan x="1345" dy="10">dependence on</tspan><tspan x="1345" dy="10">drugs / alcohol</tspan></text></g>
<g id="y10-b7" class="n gr"><rect x="1302" y="583" width="86" height="45" rx="3"/><text y="593.5"><tspan x="1345">Better ability to</tspan><tspan x="1345" dy="10">parent as adults</tspan></text></g>

<g id="y10-c1" class="n gr"><rect x="1403" y="388" width="87" height="44" rx="3"/><text y="398.5"><tspan x="1446.5">Improved life</tspan><tspan x="1446.5" dy="10">satisfaction</tspan></text></g>
<g id="y10-c2" class="n gr"><rect x="1403" y="443" width="87" height="45" rx="3"/><text y="453.5"><tspan x="1446.5">Reducing health</tspan><tspan x="1446.5" dy="10">inequalities and</tspan><tspan x="1446.5" dy="10">premature</tspan><tspan x="1446.5" dy="10">morbidity/mortality</tspan></text></g>
</g>
<g id="labels">
<text class="lab" x="104" y="899" fill="#e3152b">Programme</text>
<text class="lab" x="104" y="931" fill="#e3152b">elements</text>
<text class="lab" x="357" y="903" fill="#3f3f3f">Programme</text>
<text class="lab" x="357" y="934" fill="#3f3f3f">outputs</text>
<text class="lab" x="666" y="905" fill="#7030a0">0-5 year</text>
<text class="lab" x="668" y="937" fill="#7030a0">outcomes</text>
<text class="lab" x="1021" y="907" fill="#f5a128">5-10 year</text>
<text class="lab" x="1021" y="939" fill="#f5a128">outcomes</text>
<text class="lab" x="1337" y="905" fill="#1a7d1f">10+ year</text>
<text class="lab" x="1340" y="937" fill="#1a7d1f">outcomes</text>
</g>
</svg>
